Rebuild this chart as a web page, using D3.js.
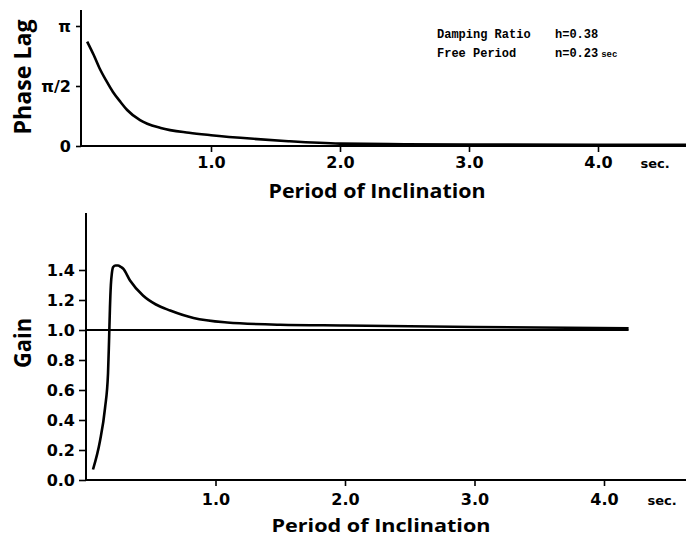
<!DOCTYPE html>
<html>
<head>
<meta charset="utf-8">
<script src="https://cdn.jsdelivr.net/npm/d3@7"></script>
<style>
  html, body { margin: 0; padding: 0; background: #fff; }
  svg { display: block; }
  text { fill: #000; }
</style>
</head>
<body>
<svg id="chart" width="686" height="538"></svg>
<script>
// ---- data ----
// Phase lag (units of pi) versus period of inclination (sec)
const phasePeriods = [0.04, 0.09, 0.135, 0.19, 0.24, 0.3, 0.35, 0.45, 0.61, 0.83, 1.0, 1.33, 1.6, 2.0, 2.5, 3.0, 4.0, 4.7];
const phaseValues  = [0.87, 0.76, 0.65, 0.54, 0.45, 0.365, 0.30, 0.215, 0.15, 0.11, 0.09, 0.06, 0.04, 0.02, 0.015, 0.012, 0.01, 0.01];
// Gain versus period of inclination (sec)
const gainPeriods = [0.054, 0.108, 0.147, 0.17, 0.178, 0.185, 0.192, 0.2, 0.21, 0.228, 0.247, 0.27, 0.286, 0.34, 0.44, 0.54, 0.65, 0.83, 1.09, 1.5, 2.0, 3.0, 4.19];
const gainValues  = [0.07, 0.26, 0.48, 0.71, 0.93, 1.15, 1.3, 1.38, 1.42, 1.43, 1.43, 1.42, 1.41, 1.33, 1.23, 1.17, 1.13, 1.08, 1.05, 1.035, 1.03, 1.02, 1.012];
const referenceGain = 1.0;
const referenceSpan = [0, 4.19];

const periodTicks = [1, 2, 3, 4];
const periodTickLabels = ["1.0", "2.0", "3.0", "4.0"];
const phaseTicks = [0, 0.5, 1];
const phaseTickLabels = ["0", "π/2", "π"];
const gainTicks = [0, 0.2, 0.4, 0.6, 0.8, 1.0, 1.2, 1.4];
const gainTickLabels = ["0.0", "0.2", "0.4", "0.6", "0.8", "1.0", "1.2", "1.4"];

const xTitle = "Period of Inclination";
const unitLabel = "sec.";
const phaseTitle = "Phase Lag";
const gainTitle = "Gain";
const noteLabels = ["Damping Ratio", "Free Period"];
const noteValues = ["h=0.38", "n=0.23"];

// ---- drawing ----
const svg = d3.select("#chart");
const tickFont = "'DejaVu Sans', sans-serif";
const titleFont = "'Open Sans', 'DejaVu Sans', sans-serif";

// Top panel scales
const xTop = d3.scaleLinear().domain([0, 4.7]).range([82, 82 + 129 * 4.7]);
const yTop = d3.scaleLinear().domain([0, 1]).range([146, 26]);
// Bottom panel scales
const xBot = d3.scaleLinear().domain([0, 4.7]).range([86, 86 + 129.5 * 4.7]);
const yBot = d3.scaleLinear().domain([0, 1.4]).range([480, 270]);

// Top panel axes
const gTop = svg.append("g");
gTop.append("line").attr("x1", 81).attr("x2", 81).attr("y1", 10).attr("y2", 147)
  .attr("stroke", "#000").attr("stroke-width", 2);
gTop.append("line").attr("x1", 80).attr("x2", 686).attr("y1", yTop(0)).attr("y2", yTop(0))
  .attr("stroke", "#000").attr("stroke-width", 2);

const topX = gTop.append("g").attr("transform", `translate(0,${yTop(0)})`)
  .call(d3.axisBottom(xTop).tickValues(periodTicks)
    .tickFormat((d, i) => periodTickLabels[i]).tickSize(6).tickPadding(5));
topX.select(".domain").remove();
topX.selectAll(".tick line").attr("stroke", "#000").attr("stroke-width", 1.6);
topX.selectAll(".tick text").attr("font-family", tickFont).attr("font-weight", "bold")
  .attr("font-size", 16).attr("fill", "#000");

const topY = gTop.append("g").attr("transform", "translate(81,0)")
  .call(d3.axisLeft(yTop).tickValues(phaseTicks)
    .tickFormat((d, i) => phaseTickLabels[i]).tickSize(5).tickPadding(5));
topY.select(".domain").remove();
topY.selectAll(".tick line").attr("stroke", "#000").attr("stroke-width", 1.6);
topY.selectAll(".tick text").attr("font-family", tickFont).attr("font-weight", "bold")
  .attr("font-size", 16).attr("fill", "#000");

const phaseLine = d3.line()
  .x(d => xTop(d[0])).y(d => yTop(d[1]))
  .curve(d3.curveMonotoneX);
gTop.append("path")
  .datum(phasePeriods.map((p, i) => [p, phaseValues[i]]))
  .attr("d", phaseLine).attr("fill", "none")
  .attr("stroke", "#000").attr("stroke-width", 2.6);

gTop.append("text").attr("x", 655).attr("y", 163).attr("text-anchor", "middle")
  .attr("dominant-baseline", "central").attr("font-family", tickFont)
  .attr("font-weight", "bold").attr("font-size", 13).text(unitLabel);
gTop.append("text").attr("x", 377).attr("y", 191).attr("text-anchor", "middle")
  .attr("dominant-baseline", "central").attr("font-family", titleFont)
  .attr("font-weight", 700).attr("font-size", 19)
  .attr("textLength", 217).attr("lengthAdjust", "spacingAndGlyphs").text(xTitle);
gTop.append("text").attr("transform", "translate(21,77) rotate(-90)")
  .attr("text-anchor", "middle").attr("dominant-baseline", "central")
  .attr("font-family", titleFont).attr("font-weight", 700).attr("font-size", 24)
  .attr("textLength", 115).attr("lengthAdjust", "spacingAndGlyphs").text(phaseTitle);

// annotations
const noteFont = "'Liberation Mono', 'DejaVu Sans Mono', monospace";
noteLabels.forEach((t, i) => {
  svg.append("text").attr("x", 437).attr("y", 38 + i * 19)
    .attr("font-family", noteFont).attr("font-weight", "bold").attr("font-size", 12)
    .text(t);
});
noteValues.forEach((t, i) => {
  const tx = svg.append("text").attr("x", 555).attr("y", 38 + i * 19)
    .attr("font-family", noteFont).attr("font-weight", "bold").attr("font-size", 12)
    .text(t);
  if (i === 1) tx.append("tspan").attr("font-size", 9).attr("dx", 3).text("sec");
});

// Bottom panel
const gBot = svg.append("g");
gBot.append("line").attr("x1", 86).attr("x2", 86).attr("y1", 213).attr("y2", 481)
  .attr("stroke", "#000").attr("stroke-width", 2);
gBot.append("line").attr("x1", 85).attr("x2", 686).attr("y1", yBot(0)).attr("y2", yBot(0))
  .attr("stroke", "#000").attr("stroke-width", 2);

const botX = gBot.append("g").attr("transform", `translate(0,${yBot(0)})`)
  .call(d3.axisBottom(xBot).tickValues(periodTicks)
    .tickFormat((d, i) => periodTickLabels[i]).tickSize(6).tickPadding(8));
botX.select(".domain").remove();
botX.selectAll(".tick line").attr("stroke", "#000").attr("stroke-width", 1.6);
botX.selectAll(".tick text").attr("font-family", tickFont).attr("font-weight", "bold")
  .attr("font-size", 16).attr("fill", "#000");

const botY = gBot.append("g").attr("transform", "translate(86,0)")
  .call(d3.axisLeft(yBot).tickValues(gainTicks)
    .tickFormat((d, i) => gainTickLabels[i]).tickSize(7).tickPadding(4));
botY.select(".domain").remove();
botY.selectAll(".tick line").attr("stroke", "#000").attr("stroke-width", 1.6);
botY.selectAll(".tick text").attr("font-family", tickFont).attr("font-weight", "bold")
  .attr("font-size", 16).attr("fill", "#000");

// reference line at gain = 1.0
gBot.append("line")
  .attr("x1", xBot(referenceSpan[0])).attr("x2", xBot(referenceSpan[1]))
  .attr("y1", yBot(referenceGain)).attr("y2", yBot(referenceGain))
  .attr("stroke", "#000").attr("stroke-width", 2);

const gainLine = d3.line()
  .x(d => xBot(d[0])).y(d => yBot(d[1]))
  .curve(d3.curveMonotoneX);
gBot.append("path")
  .datum(gainPeriods.map((p, i) => [p, gainValues[i]]))
  .attr("d", gainLine).attr("fill", "none")
  .attr("stroke", "#000").attr("stroke-width", 2.6);

gBot.append("text").attr("x", 662).attr("y", 500).attr("text-anchor", "middle")
  .attr("dominant-baseline", "central").attr("font-family", tickFont)
  .attr("font-weight", "bold").attr("font-size", 13).text(unitLabel);
gBot.append("text").attr("x", 381).attr("y", 525).attr("text-anchor", "middle")
  .attr("dominant-baseline", "central").attr("font-family", titleFont)
  .attr("font-weight", 700).attr("font-size", 18)
  .attr("textLength", 219).attr("lengthAdjust", "spacingAndGlyphs").text(xTitle);
gBot.append("text").attr("transform", "translate(21,343) rotate(-90)")
  .attr("text-anchor", "middle").attr("dominant-baseline", "central")
  .attr("font-family", titleFont).attr("font-weight", 700).attr("font-size", 24)
  .attr("textLength", 50).attr("lengthAdjust", "spacingAndGlyphs").text(gainTitle);
</script>
</body>
</html>
